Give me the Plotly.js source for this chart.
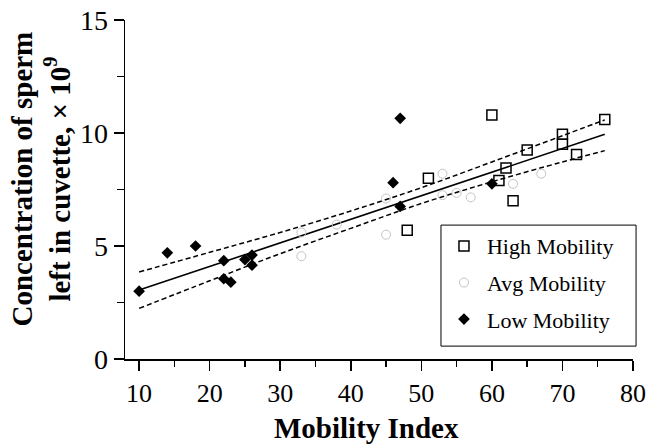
<!DOCTYPE html>
<html>
<head>
<meta charset="utf-8">
<script src="https://cdn.plot.ly/plotly-3.0.1.min.js"></script>
<style>
  html, body { margin: 0; padding: 0; background: #fff; }
  #chart { width: 650px; height: 448px; }
</style>
</head>
<body>
<div id="chart"></div>
<script>
// High mobility (open squares)
const highX = [48, 51, 60, 61, 62, 63, 65, 70, 70, 72, 76];
const highY = [5.7, 8.0, 10.8, 7.9, 8.45, 7.0, 9.25, 9.95, 9.5, 9.05, 10.6];
// Average mobility (faint open circles)
const avgX = [33, 33, 38, 45, 45, 53, 53, 55, 57, 63, 67];
const avgY = [5.6, 4.55, 5.95, 7.1, 5.5, 8.2, 7.25, 7.35, 7.15, 7.75, 8.2];
// Low mobility (filled diamonds)
const lowX = [10, 14, 18, 22, 22, 23, 25, 26, 26, 46, 47, 47, 60];
const lowY = [3.0, 4.7, 5.0, 4.35, 3.55, 3.4, 4.4, 4.6, 4.15, 7.8, 10.65, 6.75, 7.75];
// Regression line and confidence band
const fitX = [10, 76];
const fitY = [3.05, 9.94];
const bandX = [10, 20, 30, 40, 50, 60, 70, 76];
const upperY = [3.85, 4.72, 5.60, 6.55, 7.58, 8.72, 9.88, 10.58];
const lowerY = [2.24, 3.46, 4.66, 5.78, 6.88, 7.84, 8.72, 9.22];

const xTickVals = [10, 20, 30, 40, 50, 60, 70, 80];
const yTickVals = [0, 5, 10, 15];
const xTitle = '<b>Mobility Index</b>';
const yTitle = '<b>Concentration of sperm<br>left in cuvette, × 10<sup>9</sup></b>';

const serif = 'Liberation Serif, Times New Roman, serif';

const traces = [
  { x: fitX, y: fitY, mode: 'lines', showlegend: false, hoverinfo: 'skip',
    line: { color: '#000', width: 1.6 } },
  { x: bandX, y: upperY, mode: 'lines', showlegend: false, hoverinfo: 'skip',
    line: { color: '#000', width: 1.5, dash: '5px,3px', shape: 'spline' } },
  { x: bandX, y: lowerY, mode: 'lines', showlegend: false, hoverinfo: 'skip',
    line: { color: '#000', width: 1.5, dash: '5px,3px', shape: 'spline' } },
  { x: highX, y: highY, mode: 'markers', name: 'High Mobility', legendgroup: 'h',
    marker: { symbol: 'square-open', size: 10, color: '#000', line: { width: 1.5 } } },
  { x: avgX, y: avgY, mode: 'markers', name: 'Avg Mobility', legendgroup: 'a',
    marker: { symbol: 'circle-open', size: 9, color: '#c4c4c4', line: { width: 1 } } },
  { x: lowX, y: lowY, mode: 'markers', name: 'Low Mobility', legendgroup: 'l',
    marker: { symbol: 'diamond', size: 9, color: '#000' } }
];

const layout = {
  width: 650, height: 448,
  margin: { l: 125, r: 17, t: 20, b: 89 },
  paper_bgcolor: '#fff', plot_bgcolor: '#fff',
  font: { family: serif, color: '#000' },
  showlegend: true,
  legend: {
    x: 0.622, y: 0.395, xanchor: 'left', yanchor: 'top',
    borderwidth: 0, bgcolor: 'rgba(0,0,0,0)',
    font: { family: serif, size: 22, color: '#000' },
    traceorder: 'grouped', tracegroupgap: 5,
    itemwidth: 36
  },
  shapes: [
    { type: 'rect', xref: 'paper', yref: 'paper', x0: 0.622, x1: 1.006, y0: 0.038, y1: 0.395,
      line: { color: '#000', width: 1 }, fillcolor: '#fff', layer: 'above' }
  ],
  annotations: [
    { text: xTitle, xref: 'paper', yref: 'paper', x: 0.476, y: -0.205,
      xanchor: 'center', yanchor: 'middle', showarrow: false,
      font: { family: serif, size: 29, color: '#000' } },
    { text: yTitle, xref: 'paper', yref: 'paper', x: -0.165, y: 0.53, textangle: -90,
      xanchor: 'center', yanchor: 'middle', showarrow: false,
      font: { family: serif, size: 29, color: '#000' } }
  ],
  xaxis: {
    range: [8, 80], tickvals: xTickVals, ticks: 'outside', ticklen: 10, tickwidth: 1.5,
    tickcolor: '#000', showline: true, linecolor: '#000', linewidth: 1.5,
    showgrid: false, zeroline: false,
    tickfont: { family: serif, size: 26, color: '#000' },
    minor: { dtick: 5, tick0: 0, ticks: 'outside', ticklen: 6, tickwidth: 1.5, tickcolor: '#000', showgrid: false }
  },
  yaxis: {
    range: [0, 15], tickvals: yTickVals, ticks: 'outside', ticklen: 10, tickwidth: 1.5,
    tickcolor: '#000', showline: true, linecolor: '#000', linewidth: 1.5,
    showgrid: false, zeroline: false,
    tickfont: { family: serif, size: 28, color: '#000' },
    minor: { dtick: 2.5, tick0: 0, ticks: 'outside', ticklen: 7, tickwidth: 1.5, tickcolor: '#000', showgrid: false }
  }
};

Plotly.newPlot('chart', traces, layout, { displayModeBar: false, staticPlot: true });
</script>
</body>
</html>
